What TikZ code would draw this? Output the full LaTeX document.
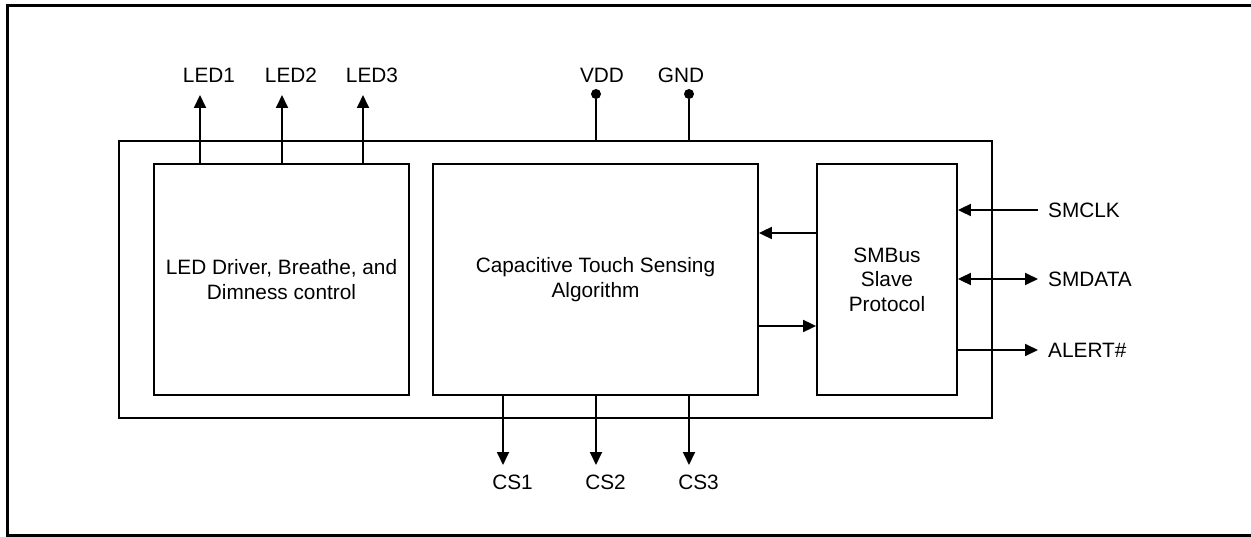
\documentclass[tikz,border=0pt]{standalone}
\usepackage{fontspec}
\setmainfont{Liberation Sans}
\usetikzlibrary{arrows.meta,positioning}

\begin{document}
\begin{tikzpicture}[
    x=1pt,y=-1pt,
    block/.style={rectangle,draw,line width=1.8pt,minimum height=231pt,align=center,inner sep=0pt,font=\fontsize{20.8}{24.5}\selectfont},
    sig/.style={font=\fontsize{20.8}{24.5}\selectfont,inner sep=0pt},
    arrow/.style={line width=1.8pt,-{Triangle[length=13pt,width=12pt]}},
    dblarrow/.style={line width=1.8pt,{Triangle[length=13pt,width=12pt]}-{Triangle[length=13pt,width=12pt]}},
    wire/.style={line width=1.8pt},
    dot/.style={circle,fill,inner sep=0pt,minimum size=10pt}
]
    \useasboundingbox (0,0) rectangle (1251,537);
    \draw[line width=2.5pt] (1253,5.3) -- (7.5,5.3) -- (7.5,535.7) -- (1253,535.7);

    \node[block,minimum width=873pt,minimum height=277pt] (chip) at (555.5,279.5) {};
    \node[block,minimum width=255pt] (led) at (281.5,279.5) {LED Driver, Breathe, and\\Dimness control};
    \node[block,minimum width=325pt] (touch) at (595.5,279.5) {Capacitive Touch Sensing\\Algorithm};
    \node[block,minimum width=140pt] (smbus) at (887,279.5) {SMBus\\Slave\\Protocol};

    % LED outputs
    \foreach \x [count=\i] in {200,282,363} {
        \coordinate (ledout\i) at (\x,95);
        \node[sig,anchor=base] (ledlab\i) at (\x+9,82.5) {LED\i};
        \draw[arrow] (led.north -| ledout\i) -- (ledout\i);
    }

    % supply pins
    \node[dot] (vdd) at (596,94) {};
    \node[dot] (gnd) at (689,94) {};
    \node[sig,anchor=base] (vddlab) at (602,82.5) {VDD};
    \node[sig,anchor=base] (gndlab) at (681,82.5) {GND};
    \draw[wire] (chip.north -| vdd) -- (vdd);
    \draw[wire] (chip.north -| gnd) -- (gnd);

    % sensor inputs
    \foreach \x [count=\i] in {503,596,689} {
        \coordinate (csout\i) at (\x,465);
        \node[sig,anchor=base] (cslab\i) at (\x+9.5,489.3) {CS\i};
        \draw[arrow] (touch.south -| csout\i) -- (csout\i);
    }

    % SMBus to touch block
    \draw[arrow] ([yshift=46.5pt]smbus.west) -- ([yshift=46.5pt]touch.east);
    \draw[arrow] ([yshift=-46.5pt]touch.east) -- ([yshift=-46.5pt]smbus.west);

    % bus pins
    \coordinate (clk) at (1038,210);
    \coordinate (dat) at (1038,279);
    \coordinate (alert) at (1038,350);
    \node[sig,anchor=west] (clklab) at (1048,210) {SMCLK};
    \node[sig,anchor=west] (datlab) at (1048,279) {SMDATA};
    \node[sig,anchor=west] (alertlab) at (1048,350) {ALERT\#};
    \draw[arrow] (clk) -- (smbus.east |- clk);
    \draw[dblarrow] (smbus.east |- dat) -- (dat);
    \draw[arrow] (smbus.east |- alert) -- (alert);
\end{tikzpicture}
\end{document}
